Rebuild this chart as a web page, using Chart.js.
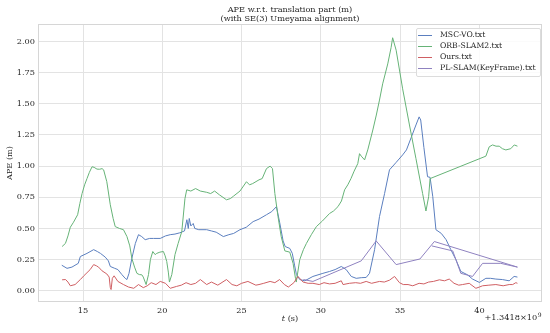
<!DOCTYPE html>
<html><head><meta charset="utf-8">
<script src="https://cdn.jsdelivr.net/npm/chart.js@4.4.1/dist/chart.umd.min.js"></script>
<style>
html,body{margin:0;padding:0;background:#fff;}
#wrap{width:550px;height:333px;position:relative;}
#legend{position:absolute;left:416px;top:28px;width:125px;height:49px;box-sizing:border-box;border:1px solid #dcdcdc;border-radius:2px;background:rgba(255,255,255,0.85);font-family:"DejaVu Serif";font-size:7.7px;color:#262626;}
#legend .row{position:absolute;left:0;height:10px;width:123px;}
#legend .sw{position:absolute;left:1px;top:5px;width:14px;height:1px;}
#legend .lb{position:absolute;left:23px;top:0;line-height:10px;white-space:nowrap;}
</style>
</head><body><div id="wrap"><canvas id="c" width="550" height="333"></canvas><div id="legend"></div></div>
<script>
const seriesLabels = ['MSC-VO.txt', 'ORB-SLAM2.txt', 'Ours.txt', 'PL-SLAM(KeyFrame).txt'];
const xTicks = [15, 20, 25, 30, 35, 40];
const yTicks = [0, 0.25, 0.5, 0.75, 1.0, 1.25, 1.5, 1.75, 2.0];

const mscT = [
13.66,13.99,14.3,14.7,14.83,15.25,15.67,15.9,16.1,16.4,
16.6,16.72,17.0,17.2,17.45,17.66,17.77,17.9,18.08,18.3,
18.5,18.7,18.92,19.2,19.45,19.87,20.2,20.5,20.8,21.1,
21.4,21.55,21.64,21.7,21.8,21.95,22.05,22.3,22.8,23.1,
23.4,23.85,24.2,24.5,24.9,25.3,25.73,26.1,26.57,26.9,
27.2,27.4,27.62,27.75,28.04,28.2,28.35,28.46,28.67,28.99,
29.5,30.13,30.55,30.9,31.29,31.6,31.92,32.23,32.55,32.86,
33.07,33.39,33.7,34.02,34.33,34.75,35.16,35.4,35.7,36.0,
36.2,36.3,36.5,36.73,36.89,37.06,37.26,37.6,37.9,38.2,
38.52,38.83,39.25,39.57,40.0,40.41,40.7,41.04,41.45,41.88,
42.19,42.4];
const mscV = [
0.205,0.18,0.19,0.22,0.275,0.30,0.33,0.315,0.30,0.27,
0.24,0.195,0.18,0.17,0.13,0.10,0.09,0.14,0.26,0.38,
0.45,0.435,0.41,0.42,0.42,0.42,0.44,0.45,0.455,0.465,
0.48,0.57,0.50,0.58,0.52,0.54,0.50,0.49,0.49,0.48,
0.47,0.435,0.45,0.46,0.49,0.51,0.555,0.575,0.61,0.635,
0.675,0.55,0.40,0.355,0.34,0.30,0.20,0.13,0.09,0.08,
0.115,0.14,0.155,0.17,0.195,0.17,0.115,0.10,0.105,0.107,
0.14,0.33,0.595,0.78,0.97,1.03,1.09,1.13,1.23,1.33,
1.395,1.37,1.15,0.915,0.91,0.755,0.49,0.46,0.41,0.33,
0.25,0.155,0.128,0.094,0.067,0.10,0.10,0.094,0.09,0.08,
0.115,0.11];

const orbT = [
13.68,13.89,14.05,14.2,14.4,14.66,14.8,14.94,15.1,15.25,
15.4,15.57,15.7,15.88,16.05,16.2,16.3,16.5,16.72,16.9,
17.03,17.3,17.55,17.77,17.95,18.08,18.25,18.4,18.55,18.71,
18.8,18.98,19.13,19.25,19.4,19.55,19.65,19.85,20.07,20.18,
20.28,20.38,20.45,20.6,20.8,21.0,21.23,21.43,21.54,21.8,
22.1,22.4,22.8,23.05,23.3,23.6,24.05,24.3,24.5,24.9,
25.31,25.5,25.7,26.1,26.3,26.57,26.8,26.95,27.1,27.3,
27.5,27.73,28.04,28.25,28.4,28.45,28.67,28.9,29.09,29.4,
29.72,30.1,30.55,30.8,31.08,31.3,31.5,31.7,31.9,32.1,
32.33,32.44,32.55,32.76,32.96,33.28,33.5,33.7,33.9,34.22,
34.43,34.53,34.75,35.16,35.59,36.0,36.42,36.63,36.8,36.89,
40.41,40.62,40.83,41.05,41.25,41.45,41.67,41.98,42.2,42.4];
const orbV = [
0.355,0.38,0.44,0.51,0.55,0.61,0.70,0.78,0.85,0.90,
0.95,0.995,0.99,0.976,0.975,0.98,0.97,0.875,0.69,0.58,
0.515,0.50,0.49,0.435,0.36,0.26,0.19,0.14,0.13,0.128,
0.11,0.05,0.13,0.25,0.315,0.29,0.30,0.31,0.315,0.28,
0.235,0.15,0.07,0.13,0.29,0.38,0.475,0.74,0.81,0.80,
0.82,0.80,0.79,0.78,0.80,0.77,0.73,0.74,0.76,0.80,
0.875,0.85,0.86,0.89,0.90,0.98,1.0,0.98,0.78,0.595,
0.435,0.32,0.31,0.22,0.10,0.07,0.25,0.33,0.38,0.45,
0.515,0.56,0.62,0.64,0.675,0.72,0.81,0.85,0.90,0.96,
1.02,1.10,1.08,1.05,1.13,1.29,1.41,1.53,1.66,1.82,
1.95,2.03,1.93,1.62,1.33,1.06,0.78,0.64,0.755,0.90,
1.08,1.155,1.17,1.16,1.16,1.14,1.13,1.14,1.17,1.16];

const oursT = [
13.68,13.9,14.05,14.2,14.5,14.83,15.05,15.25,15.45,15.67,
15.85,15.98,16.2,16.5,16.65,16.72,16.77,16.85,16.96,17.2,
17.55,17.87,18.2,18.5,18.8,19.05,19.3,19.6,19.87,20.2,
20.5,20.9,21.2,21.5,21.8,22.1,22.4,22.8,23.1,23.5,
24.05,24.4,24.7,25.0,25.4,25.9,26.1,26.4,26.8,27.1,
27.4,27.7,27.95,28.3,28.56,28.88,29.2,29.5,29.9,30.2,
30.55,30.9,31.29,31.4,31.8,32.2,32.5,32.86,33.2,33.7,
34.0,34.33,34.65,34.96,35.2,35.5,35.8,36.2,36.5,36.8,
37.1,37.48,37.8,38.1,38.4,38.7,38.94,39.36,39.78,40.0,
40.2,40.6,41.04,41.5,41.88,42.1,42.3,42.4];
const oursV = [
0.088,0.09,0.07,0.04,0.05,0.09,0.12,0.145,0.17,0.21,
0.20,0.19,0.16,0.135,0.11,0.026,0.01,0.10,0.12,0.075,
0.05,0.03,0.02,0.05,0.025,0.04,0.065,0.05,0.075,0.06,
0.02,0.035,0.045,0.065,0.05,0.06,0.09,0.05,0.07,0.045,
0.09,0.05,0.04,0.06,0.075,0.045,0.05,0.06,0.075,0.065,
0.09,0.05,0.03,0.065,0.115,0.07,0.06,0.06,0.05,0.065,
0.055,0.06,0.08,0.05,0.06,0.065,0.06,0.075,0.06,0.075,
0.07,0.085,0.115,0.065,0.05,0.05,0.04,0.06,0.055,0.07,
0.075,0.088,0.08,0.094,0.06,0.045,0.05,0.06,0.02,0.03,
0.04,0.045,0.05,0.04,0.05,0.05,0.065,0.06];

const plT = [28.9,29.5,32.55,33.49,34.75,36.25,37.16,42.4,41.35,40.2,39.57,38.83,38.32,37.0];
const plV = [0.09,0.075,0.24,0.40,0.21,0.255,0.395,0.19,0.22,0.22,0.115,0.14,0.32,0.36];

const colors = ['#5b7fbf', '#66b377', '#cf5f63', '#8f82c0'];
const FONT = 'DejaVu Serif';
const TXT = '#262626';
const GRID = '#e3e3e3';

function pts(t, v) { return t.map((x, i) => ({x: x, y: v[i]})); }
const seriesData = [pts(mscT, mscV), pts(orbT, orbV), pts(oursT, oursV), pts(plT, plV)];

const datasets = seriesData.map((d, i) => ({
  label: seriesLabels[i], data: d, borderColor: colors[i], backgroundColor: colors[i],
  borderWidth: 1, pointRadius: 0, tension: 0, fill: false, order: 4 - i
}));

const legendEl = document.getElementById('legend');
seriesLabels.forEach((lab, i) => {
  const row = document.createElement('div');
  row.className = 'row';
  row.style.top = (Math.round(35 + i * 11.1) - 29 - 5) + 'px';
  const sw = document.createElement('span');
  sw.className = 'sw'; sw.style.background = colors[i];
  const lb = document.createElement('span');
  lb.className = 'lb'; lb.textContent = lab;
  row.appendChild(sw); row.appendChild(lb);
  legendEl.appendChild(row);
});

const extras = {
  id: 'extras',
  beforeDatasetsDraw(chart) {
    const {ctx, chartArea: a} = chart;
    ctx.save();
    ctx.strokeStyle = '#d6d6d6'; ctx.lineWidth = 1;
    ctx.strokeRect(Math.round(a.left) + 0.5, Math.round(a.top) + 0.5, Math.round(a.right - a.left) - 1, Math.round(a.bottom - a.top) - 1);
    ctx.restore();
  },
  afterDraw(chart) {
    const {ctx, chartArea: a} = chart;
    ctx.save();
    ctx.fillStyle = TXT; ctx.textBaseline = 'middle';
    const f1 = 'italic 8.2px "' + FONT + '"', f2 = '8.2px "' + FONT + '"';
    ctx.font = f1; const w1 = ctx.measureText('t').width;
    ctx.font = f2; const w2 = ctx.measureText(' (s)').width;
    const cx = (a.left + a.right) / 2; const x0 = cx - (w1 + w2) / 2;
    ctx.textAlign = 'left';
    ctx.font = f1; ctx.fillText('t', x0, 319);
    ctx.font = f2; ctx.fillText(' (s)', x0 + w1, 319);
    const base = '+1.3418×10';
    ctx.font = '8.2px "' + FONT + '"'; const wb = ctx.measureText(base).width;
    ctx.font = '6px "' + FONT + '"'; const ws = ctx.measureText('9').width;
    const rx = 541 - wb - ws;
    ctx.font = '8.2px "' + FONT + '"'; ctx.fillText(base, rx, 318);
    ctx.font = '6px "' + FONT + '"'; ctx.fillText('9', rx + wb + 0.5, 315);
    ctx.restore();
  }
};

new Chart(document.getElementById('c'), {
  type: 'line',
  data: {datasets: datasets},
  plugins: [extras],
  options: {
    responsive: false, animation: false,
    layout: {padding: {left: 0, right: 8, top: 0, bottom: 0}},
    plugins: {
      legend: {display: false}, tooltip: {enabled: false},
      title: {display: true, fullSize: false, text: ['APE w.r.t. translation part (m)', '(with SE(3) Umeyama alignment)'],
        font: {family: FONT, size: 8.2, weight: 'normal', lineHeight: 1.16}, color: TXT, padding: {top: 5, bottom: 0}}
    },
    scales: {
      x: {type: 'linear', min: 12.16, max: 43.95,
        afterBuildTicks: s => { s.ticks = xTicks.map(v => ({value: v})); },
        afterFit: s => { s.height = 31; },
        grid: {color: GRID, lineWidth: 1, drawTicks: false}, border: {display: false},
        ticks: {padding: 4, color: TXT, font: {family: FONT, size: 8.2}, maxRotation: 0, callback: v => String(v)}},
      y: {type: 'linear', min: -0.09, max: 2.14,
        afterBuildTicks: s => { s.ticks = yTicks.map(v => ({value: v})); },
        afterFit: s => { s.width = 38; },
        grid: {color: GRID, lineWidth: 1, drawTicks: false}, border: {display: false},
        ticks: {padding: 3, color: TXT, font: {family: FONT, size: 8.2}, callback: v => Number(v).toFixed(2)},
        title: {display: true, text: 'APE (m)', color: TXT, font: {family: FONT, size: 8.2}, padding: {top: 5, bottom: 0}}}
    }
  }
});
</script></body></html>
